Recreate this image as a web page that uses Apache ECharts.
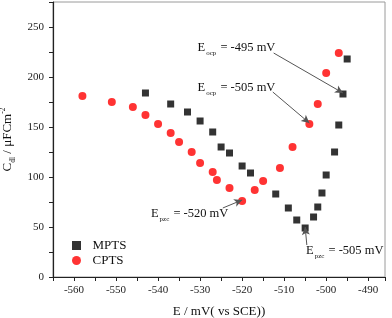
<!DOCTYPE html>
<html><head><meta charset="utf-8">
<script src="https://cdn.jsdelivr.net/npm/echarts@6/dist/echarts.min.js"></script>
<style>html,body{margin:0;padding:0;background:#fff}#c{width:392px;height:318px}</style>
</head><body><div id="c"></div>
<script>
// MPTS (black squares)
const mptsE = [-543, -537, -533, -530, -527, -525, -523, -520, -518, -512, -509, -507, -505, -503, -502, -501, -500, -498, -497, -496, -495];
const mptsC = [184, 173, 165, 156, 145, 130, 124, 111, 104, 83, 69, 57, 49, 60, 70, 84, 102, 125, 152, 183, 218];
// CPTS (red circles)
const cptsE = [-558, -551, -546, -543, -540, -537, -535, -532, -530, -527, -526, -523, -520, -517, -515, -511, -508, -504, -502, -500, -497];
const cptsC = [181, 175, 170, 162, 153, 144, 135, 125, 114, 105, 97, 89, 76, 87, 96, 109, 130, 153, 173, 204, 224];
const seriesNames = ['MPTS', 'CPTS'];
const xTickLabels = [-560, -550, -540, -530, -520, -510, -500, -490];
const yTickLabels = [0, 50, 100, 150, 200, 250];

// annotations: [main, subscript, rest, textAnchorE, textAnchorC, arrowFromE, arrowFromC, targetE, targetC]
const annotations = [
  ['E', 'ocp', ' = -495 mV', -530.6, 229, -512.5, 224, -496, 184],
  ['E', 'ocp', ' = -505 mV', -530.6, 189, -512.7, 185, -504, 154],
  ['E', 'pzc', ' = -520 mV', -541.7, 63, -524.6, 69, -520, 77],
  ['E', 'pzc', ' = -505 mV', -504.8, 26, -504.6, 32, -505, 50]
];

const zip = (a, b) => a.map((v, i) => [v, b[i]]);
const serif = 'Liberation Serif';
const rich = {
  m: {fontFamily: serif, fontSize: 12.5, color: '#111', lineHeight: 18, verticalAlign: 'middle'},
  s: {fontFamily: serif, fontSize: 7, color: '#111', lineHeight: 18, verticalAlign: 'bottom', padding: [0, 1, 0, 1]}
};

const chart = echarts.init(document.getElementById('c'));
chart.setOption({
  animation: false,
  grid: {left: 53, right: 7, top: 2, bottom: 41, show: true, borderColor: '#9a9a9a', borderWidth: 1,
         containLabel: false, outerBoundsMode: 'none'},
  xAxis: {
    type: 'value', min: -565, max: -486, interval: 5,
    name: 'E / mV( vs SCE))', nameLocation: 'middle', nameGap: 28,
    nameTextStyle: {fontFamily: serif, fontSize: 13, color: '#111'},
    axisLine: {lineStyle: {color: '#222', width: 1.2}},
    axisTick: {inside: false, length: 4, lineStyle: {color: '#222'}},
    axisLabel: {fontFamily: serif, fontSize: 11, color: '#222', margin: 8,
      formatter: v => xTickLabels.includes(v) ? String(v) : ''},
    splitLine: {show: false}
  },
  yAxis: {
    type: 'value', min: 0, max: 275, interval: 25,
    name: '{m|C}{s|dl}{m| / μFCm}{t|-2}', nameLocation: 'middle', nameGap: 34, nameRotate: 90,
    nameTextStyle: {rich: {
      m: {fontFamily: serif, fontSize: 13, color: '#111', lineHeight: 18, verticalAlign: 'middle'},
      s: {fontFamily: serif, fontSize: 7.5, color: '#111', lineHeight: 18, verticalAlign: 'bottom'},
      t: {fontFamily: serif, fontSize: 7.5, color: '#111', lineHeight: 18, verticalAlign: 'top'}
    }},
    axisLine: {show: true, lineStyle: {color: '#222', width: 1.2}},
    axisTick: {show: true, inside: false, length: 4, lineStyle: {color: '#222'}},
    axisLabel: {fontFamily: serif, fontSize: 11, color: '#222', margin: 9,
      formatter: v => yTickLabels.includes(v) ? String(v) : ''},
    splitLine: {show: false}
  },
  legend: {
    orient: 'vertical', left: 72, top: 238, padding: 0, itemGap: 0, itemWidth: 9, itemHeight: 9,
    textStyle: {fontFamily: serif, fontSize: 13, color: '#111', lineHeight: 15},
    formatter: name => '  ' + name,
    data: [{name: seriesNames[0], icon: 'rect'}, {name: seriesNames[1], icon: 'circle'}]
  },
  series: [
    {name: seriesNames[0], type: 'scatter', symbol: 'rect', symbolSize: 7,
     itemStyle: {color: '#000'}, data: zip(mptsE, mptsC), z: 3},
    {name: seriesNames[1], type: 'scatter', symbol: 'circle', symbolSize: 8,
     itemStyle: {color: '#ff0000'}, data: zip(cptsE, cptsC), z: 2,
     markLine: {
       silent: true, symbol: ['none', 'arrow'], symbolSize: [6, 8],
       lineStyle: {color: '#555', width: 1, type: 'solid'}, label: {show: false},
       data: annotations.map(a => [{coord: [a[5], a[6]]}, {coord: [a[7], a[8]]}])
     },
     markPoint: {
       silent: true, symbol: 'circle', symbolSize: 0,
       data: annotations.map(a => ({
         coord: [a[3], a[4]],
         label: {show: true, position: 'right', distance: 0, rich: rich,
           formatter: '{m|' + a[0] + '}{s|' + a[1] + '}{m|' + a[2] + '}'}
       }))
     }}
  ]
});
</script></body></html>
